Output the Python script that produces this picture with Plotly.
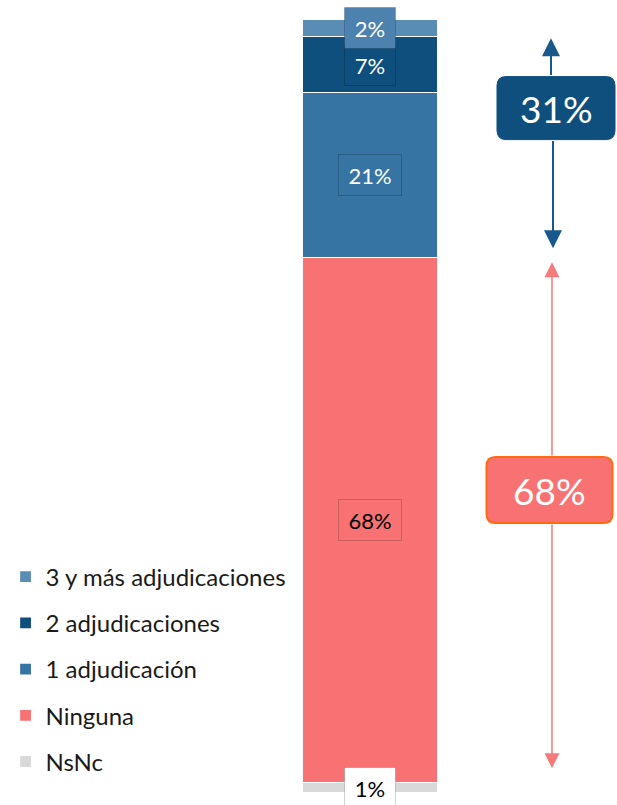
import plotly.graph_objects as go

# Data (bottom to top of the stack)
categories = ["NsNc", "Ninguna", "1 adjudicación", "2 adjudicaciones", "3 y más adjudicaciones"]
values = [1.4, 67.7, 21.3, 7.2, 2.3]
labels = ["1%", "68%", "21%", "7%", "2%"]
legend_rank = [5, 4, 3, 2, 1]
colors = ["#D9D9D9", "#F87273", "#3574A3", "#0F4F7E", "#5A8DB6"]
label_bg = ["#FFFFFF", "#F87273", "#3574A3", "#0F4F7E", "#4D82AE"]
label_fc = ["#000000", "#000000", "#FFFFFF", "#FFFFFF", "#FFFFFF"]

summary_labels = ["31%", "68%"]

FONT = "Lato"
total = sum(values)

fig = go.Figure()
for cat, v, c, rk in zip(categories, values, colors, legend_rank):
    fig.add_trace(go.Bar(
        x=[370], y=[v], name=cat, width=136,
        marker=dict(color=c, line=dict(color="white", width=1.2)),
        legendgroup=cat, legendrank=rk, hoverinfo="skip",
    ))

annotations = []
cum = 0
for v, lab, bg, fc in zip(values, labels, label_bg, label_fc):
    center = cum + v / 2
    cum += v
    annotations.append(dict(
        x=370, y=center, xref="x", yref="y", text=lab, showarrow=False,
        font=dict(family=FONT, size=22, color=fc),
        bgcolor=bg, bordercolor="rgba(0,0,0,0.18)", borderwidth=1,
        borderpad=7, width=36 if len(lab) == 2 else 48, height=26,
    ))

top = total
ninguna_top = values[0] + values[1]
ninguna_bot = values[0]

blue_c, red_c = 88.4, 39.1
px_per = 774 / total
blue_half, red_half = 31.5 / px_per, 33 / px_per

def arrow(x, y_tip, y_from, color, width, size):
    return dict(x=x, y=y_tip, ax=x, ay=y_from, xref="x", yref="y", axref="x", ayref="y",
                text="", showarrow=True, arrowhead=2, arrowsize=size, arrowwidth=width,
                arrowcolor=color, standoff=0, startstandoff=0)

blue = "#17598A"
red = "#F47A7B"
annotations += [
    arrow(551, top - 2.5, blue_c + blue_half, blue, 2, 1.8),
    arrow(553, ninguna_top + 1.2, blue_c - blue_half, blue, 2, 1.8),
    arrow(552, ninguna_top - 0.6, red_c + red_half, red, 1.5, 2.0),
    arrow(552, ninguna_bot + 1.8, red_c - red_half, red, 1.5, 2.0),
]

def rrect(hw, hh, r):
    return (f"M {-hw + r},{-hh} L {hw - r},{-hh} Q {hw},{-hh} {hw},{-hh + r} "
            f"L {hw},{hh - r} Q {hw},{hh} {hw - r},{hh} L {-hw + r},{hh} "
            f"Q {-hw},{hh} {-hw},{hh - r} L {-hw},{-hh + r} Q {-hw},{-hh} {-hw + r},{-hh} Z")

shapes = [
    dict(type="path", xref="x", yref="y", xsizemode="pixel", ysizemode="pixel",
         xanchor=556, yanchor=blue_c, path=rrect(59, 31.5, 9),
         fillcolor="#0F4F7E", line=dict(color="#0F4F7E", width=1), layer="above"),
    dict(type="path", xref="x", yref="y", xsizemode="pixel", ysizemode="pixel",
         xanchor=549.5, yanchor=red_c, path=rrect(63, 33, 9),
         fillcolor="#F87273", line=dict(color="#FF6A0D", width=2), layer="above"),
]
annotations += [
    dict(x=556, y=blue_c, xref="x", yref="y", text=summary_labels[0], showarrow=False,
         font=dict(family=FONT, size=37, color="white")),
    dict(x=549.5, y=red_c, xref="x", yref="y", text=summary_labels[1], showarrow=False,
         font=dict(family=FONT, size=37, color="white")),
]

fig.update_layout(
    width=617, height=805,
    margin=dict(l=0, r=0, t=19, b=12),
    barmode="stack",
    plot_bgcolor="white", paper_bgcolor="white",
    xaxis=dict(range=[0, 617], visible=False, fixedrange=True),
    yaxis=dict(range=[0, total], visible=False, fixedrange=True),
    showlegend=True,
    legend=dict(x=0.009, xanchor="left", y=0.308, yanchor="top",
                traceorder="grouped", tracegroupgap=12,
                font=dict(family=FONT, size=24, color="#1a1a1a"),
                bgcolor="rgba(0,0,0,0)"),
    annotations=annotations,
    shapes=shapes,
    font=dict(family=FONT),
)

fig.write_html("out.html", config={"displayModeBar": False},
               post_script="document.body.style.margin='0';")
